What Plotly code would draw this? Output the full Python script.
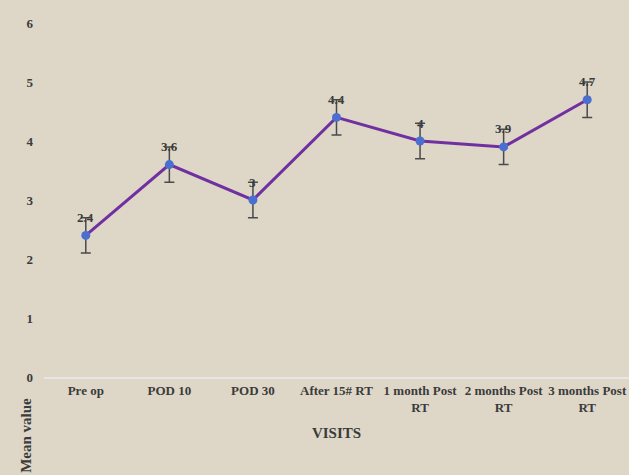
import plotly.graph_objects as go

visits = ["Pre op", "POD 10", "POD 30", "After 15# RT",
          "1 month Post<br>RT", "2 months Post<br>RT", "3 months Post<br>RT"]
mean_values = [2.4, 3.6, 3.0, 4.4, 4.0, 3.9, 4.7]
value_labels = ["2.4", "3.6", "3", "4.4", "4", "3.9", "4.7"]
error_values = [0.3, 0.3, 0.3, 0.3, 0.3, 0.3, 0.3]
y_ticks = [0, 1, 2, 3, 4, 5, 6]

font_family = "Liberation Serif, Times New Roman, serif"
text_color = "#3b3b3b"
bg = "#ded7c8"

x_idx = list(range(len(visits)))

fig = go.Figure()
fig.add_trace(go.Scatter(
    x=x_idx, y=mean_values,
    mode="lines+markers",
    line=dict(color="#7030a0", width=3),
    marker=dict(color="#4a6fd0", size=9, line=dict(color="#4a6fd0", width=0)),
    error_y=dict(type="data", array=error_values, visible=True,
                 color="#4a4a4a", thickness=1.5, width=5),
    cliponaxis=False,
    showlegend=False,
))

annotations = [dict(
    x=xi, y=v, xref="x", yref="y", text="<b>%s</b>" % t,
    showarrow=False, yshift=18, xanchor="center", yanchor="middle",
    font=dict(family=font_family, size=13, color=text_color),
) for xi, v, t in zip(x_idx, mean_values, value_labels)]

annotations.append(dict(
    text="<b>Mean value</b>", textangle=-90,
    xref="paper", yref="paper", x=-0.03, y=-0.165,
    xanchor="center", yanchor="middle", showarrow=False,
    font=dict(family=font_family, size=15, color=text_color),
))

fig.update_layout(
    width=629, height=475,
    paper_bgcolor=bg, plot_bgcolor=bg,
    margin=dict(l=44, r=0, t=23, b=98),
    font=dict(family=font_family, color=text_color),
    xaxis=dict(
        tickmode="array", tickvals=x_idx,
        ticktext=["<b>%s</b>" % v for v in visits],
        range=[-0.5, 6.5],
        showgrid=False, zeroline=False,
        showline=True, linecolor="#e8e6e2", linewidth=2,
        ticks="", tickfont=dict(family=font_family, size=13, color=text_color),
        title=dict(text="<b>VISITS</b>", font=dict(family=font_family, size=15, color=text_color), standoff=14),
    ),
    yaxis=dict(
        range=[0, 6], tickvals=y_ticks,
        ticktext=["<b>%d</b>" % v for v in y_ticks],
        showgrid=False, zeroline=False, showline=False, ticks="",
        tickfont=dict(family=font_family, size=13, color=text_color),
        ticklabelstandoff=10,
    ),
    annotations=annotations,
)

fig.write_html("out.html", config={"displayModeBar": False},
               post_script="document.body.style.margin='0';")
